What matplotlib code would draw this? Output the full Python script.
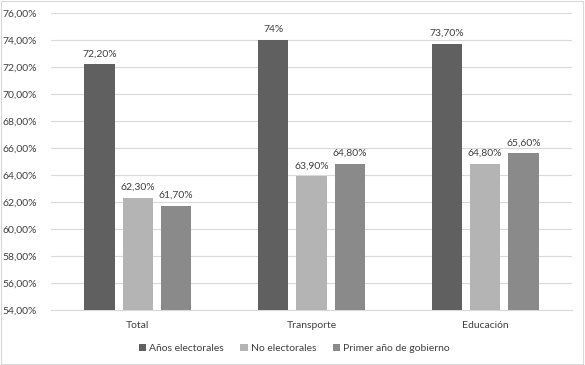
import numpy as np
import matplotlib.pyplot as plt
from matplotlib.patches import Rectangle

categories = ['Total', 'Transporte', 'Educación']
series_names = ['Años electorales', 'No electorales', 'Primer año de gobierno']
values = [
    [72.2, 74.0, 73.7],
    [62.3, 63.9, 64.8],
    [61.7, 64.8, 65.6],
]
value_labels = [
    ['72,20%', '74%', '73,70%'],
    ['62,30%', '63,90%', '64,80%'],
    ['61,70%', '64,80%', '65,60%'],
]
colors = ['#606060', '#B4B4B4', '#8A8A8A']
yticks = np.arange(54, 77, 2)

plt.rcParams['font.family'] = ['Lato', 'DejaVu Sans']
text_color = '#404040'

fig = plt.figure(figsize=(5.85, 3.65), dpi=100)
ax = fig.add_axes([0.0872, 0.151, 0.8906, 0.813])

x = np.arange(len(categories))
pitch = 0.221
for i in range(len(series_names)):
    pos = x + (i - 1) * pitch
    bars = ax.bar(pos, values[i], width=0.175, bottom=0, color=colors[i],
                  label=series_names[i], zorder=3)
    for b, v, lab in zip(bars, values[i], value_labels[i]):
        ax.text(b.get_x() + b.get_width() / 2, v + 0.45, lab, ha='center', va='bottom',
                fontsize=7.5, color=text_color)

ax.set_ylim(54, 76)
ax.set_xlim(-0.5, 2.5)
ax.set_yticks(yticks)
ax.set_yticklabels(['{:.2f}%'.format(t).replace('.', ',') for t in yticks])
ax.set_xticks(x)
ax.set_xticklabels(categories)
ax.tick_params(axis='both', length=0, labelsize=7.5, colors=text_color)
ax.tick_params(axis='x', pad=8)
ax.tick_params(axis='y', pad=10)
ax.grid(axis='y', color='#D9D9D9', linewidth=0.8, zorder=0)
for s in ['top', 'right', 'left']:
    ax.spines[s].set_visible(False)
ax.spines['bottom'].set_color('#D9D9D9')
ax.spines['bottom'].set_linewidth(0.8)

leg = fig.legend(*ax.get_legend_handles_labels(), loc='center', bbox_to_anchor=(0.503, 0.046),
                 ncol=3, frameon=False, fontsize=7.5, handlelength=0.7, handleheight=0.7,
                 handletextpad=0.3, columnspacing=1.6)
for t in leg.get_texts():
    t.set_color(text_color)

fig.patches.append(Rectangle((0.002, 0.003), 0.995, 0.994, transform=fig.transFigure,
                             fill=False, edgecolor='#D9D9D9', linewidth=0.8))

fig.savefig('out.png', dpi=100)
